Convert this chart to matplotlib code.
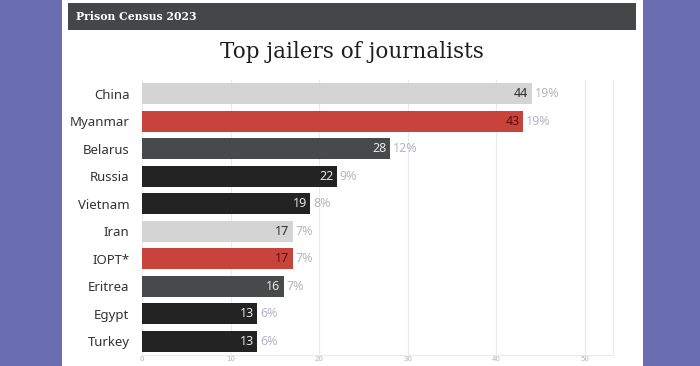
import matplotlib.pyplot as plt
from matplotlib.patches import Rectangle

countries = ['China', 'Myanmar', 'Belarus', 'Russia', 'Vietnam',
             'Iran', 'IOPT*', 'Eritrea', 'Egypt', 'Turkey']
jailed = [44, 43, 28, 22, 19, 17, 17, 16, 13, 13]
shares = ['19%', '19%', '12%', '9%', '8%', '7%', '7%', '7%', '6%', '6%']
groups = ['light', 'red', 'grey', 'dark', 'dark',
          'light', 'red', 'grey', 'dark', 'dark']

bar_colors = {'light': '#d4d4d4', 'red': '#c8433c', 'grey': '#47494b', 'dark': '#232323'}
value_colors = {'light': '#2e2e2e', 'red': '#5e0f0b', 'grey': '#e6e6e6', 'dark': '#e6e6e6'}

fig = plt.figure(figsize=(7, 3.66), dpi=100)
fig.patch.set_facecolor('#6a6db0')

# white card and dark header strip
fig.patches.append(Rectangle((62/700, 0), 581/700, 1, transform=fig.transFigure,
                             facecolor='white', edgecolor='none', zorder=-2))
fig.patches.append(Rectangle((68/700, 1 - 30/366), 568/700, 27/366, transform=fig.transFigure,
                             facecolor='#454647', edgecolor='none', zorder=-1))
fig.text(76/700, 1 - 16.5/366, 'Prison Census 2023', color='white', fontsize=7.8,
         fontweight='bold', family='DejaVu Serif', va='center', ha='left')
fig.text(352/700, 1 - 52/366, 'Top jailers of journalists', color='#1e1e1e', fontsize=15.5,
         family='DejaVu Serif', va='center', ha='center')

ax = fig.add_axes([142/700, 1 - 355/366, 471/700, 275/366])
ax.set_zorder(3)
ax.set_facecolor('white')
y = list(range(len(countries)))
ax.barh(y, jailed, height=0.78, color=[bar_colors[g] for g in groups], zorder=2)

for i, (v, s, g) in enumerate(zip(jailed, shares, groups)):
    ax.text(v - 0.35, i, str(v), ha='right', va='center', fontsize=9,
            color=value_colors[g], family='Noto Sans', zorder=3)
    ax.text(v + 0.35, i, s, ha='left', va='center', fontsize=9,
            color='#b4b4c4', family='Noto Sans', zorder=3)

ax.set_xlim(0, 53.2)
ax.set_ylim(len(countries) - 0.5, -0.5)
ax.set_xticks([0, 10, 20, 30, 40, 50])
ax.grid(axis='x', color='#ebebeb', linewidth=0.8, zorder=0)
ax.set_yticks(y)
ax.set_yticklabels(countries, fontsize=9.5, color='#333333', family='Noto Sans')
ax.tick_params(axis='y', length=0, pad=9)
ax.tick_params(axis='x', length=0, pad=0.5, labelsize=5, labelcolor='#b0b0b0')
for side in ['top', 'left']:
    ax.spines[side].set_visible(False)
ax.spines['right'].set_color('#ebebeb')
ax.spines['bottom'].set_color('#ebebeb')

fig.savefig('out.png', dpi=100, facecolor=fig.get_facecolor())
